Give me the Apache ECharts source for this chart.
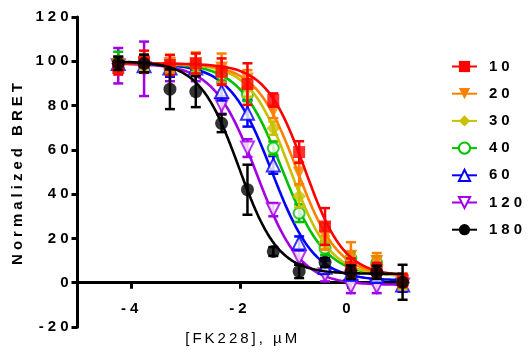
<!DOCTYPE html>
<html>
<head>
<meta charset="utf-8">
<script src="https://cdn.jsdelivr.net/npm/echarts@6/dist/echarts.min.js"></script>
<style>
  html, body { margin: 0; padding: 0; background: #fff; }
  #chart { width: 531px; height: 360px; }
</style>
</head>
<body>
<div id="chart"></div>
<script>
// log10 of FK228 concentration (µM), 3-fold dilution series
const logConc = [-4.248, -3.771, -3.294, -2.817, -2.340, -1.863, -1.386, -0.909, -0.431, 0.046, 0.523, 1.000];

const seriesNames = ['10', '20', '30', '40', '60', '120', '180'];

// mean normalized BRET per time point
const bret10  = [97, 99.8, 98.3, 99, 95.3, 89.7, 82.5, 59, 25.4, 7, 6, 1];
const bret20  = [98, 99, 99, 99, 97, 92, 77.3, 49.5, 21, 12, 9.6, 1];
const bret30  = [99, 99, 98, 98, 96, 88, 69.8, 39, 18, 9, 8, 0];
const bret40  = [100, 99, 97, 98, 94, 85, 60.8, 31.4, 15.6, 11, 9, 1];
const bret60  = [99, 98, 97, 97, 86.3, 76.5, 53.2, 17.9, 7, 4, 3, -1];
const bret120 = [98, 96.6, 96, 95, 80.3, 60.8, 33, 11.4, 3.6, -1.7, -1.7, -1];
const bret180 = [99.1, 99, 87.4, 86.3, 72, 42, 14.1, 5.1, 9.2, 4.8, 4.7, 0.2];

// error (± SEM)
const err10  = [3, 5, 4.5, 4.5, 6, 9.4, 3, 4.9, 8.3, 4, 3, 3];
const err20  = [3, 4, 4, 5, 6.5, 4, 3, 5, 6, 6.3, 3.8, 3];
const err30  = [3, 3, 3, 3, 3, 4, 3, 5, 3, 3, 3, 3];
const err40  = [4.3, 3, 3, 3, 3, 3, 3, 4, 3, 3, 3, 3];
const err60  = [3, 3, 4, 3, 4, 6, 4, 3, 3, 3, 3, 3];
const err120 = [8, 12.3, 5, 4, 4, 4, 3, 3, 3, 3, 3, 3];
const err180 = [3, 4, 9, 7, 4, 11.3, 2, 3, 2, 3, 3, 7.9];

// four-parameter logistic fit per time point
const fitTop     = [99, 99, 99, 99, 99, 99, 100];
const fitBottom  = [3, 3, 3, 3, 1, -1, 4];
const fitLogIC50 = [-0.80, -0.95, -1.075, -1.22, -1.41, -1.69, -2.02];
const fitHill    = [1.2, 1.15, 1.17, 1.1, 1.1, 1.1, 1.2];

const yTicks = { min: -20, max: 120, interval: 20 };
const xTickValues = [-4, -2, 0];

const means = [bret10, bret20, bret30, bret40, bret60, bret120, bret180];
const errs = [err10, err20, err30, err40, err60, err120, err180];

const colors = ['#FF0000', '#FF8000', '#C8C000', '#00C000', '#0000FF', '#A100E6', '#000000'];
const symbols = ['rect', 'triangle', 'diamond', 'emptyCircle', 'emptyTriangle', 'emptyTriangle', 'circle'];
const symbolRotates = [0, 180, 0, 0, 0, 180, 0];
const symbolSizes = [12, 13, 14, 11, 13, 13, 13];
const stackRank = [6, 5, 4, 3, 2, 1, 7];

// letter spacing for canvas text (bold labels are spaced wider)
const fillTextBase = CanvasRenderingContext2D.prototype.fillText;
CanvasRenderingContext2D.prototype.fillText = function (t, x, y, w) {
  const prev = this.letterSpacing;
  this.letterSpacing = /bold/.test(this.font) ? '4px' : '3px';
  if (w === undefined) fillTextBase.call(this, t, x, y);
  else fillTextBase.call(this, t, x, y, w);
  this.letterSpacing = prev || '0px';
};

function fitCurve(i) {
  const pts = [];
  const x0 = logConc[0], x1 = logConc[logConc.length - 1];
  const n = 120;
  for (let k = 0; k <= n; k++) {
    const x = x0 + (x1 - x0) * k / n;
    const y = fitBottom[i] + (fitTop[i] - fitBottom[i]) /
      (1 + Math.pow(10, (x - fitLogIC50[i]) * fitHill[i]));
    pts.push([x, y]);
  }
  return pts;
}

const FONT = '"Liberation Sans", Arial, sans-serif';
const series = [];

seriesNames.forEach((name, i) => {
  const color = colors[i];
  const zBase = stackRank[i] * 3;
  // fitted curve (first series of the name provides the legend icon)
  series.push({
    type: 'line',
    name: name,
    data: fitCurve(i),
    symbol: symbols[i],
    symbolRotate: symbolRotates[i],
    symbolSize: symbolSizes[i],
    showSymbol: false,
    smooth: false,
    silent: true,
    color: color,
    lineStyle: { color: color, width: 2.6 },
    itemStyle: { color: color, borderWidth: 2.5 },
    z: zBase
  });
  // error bars
  series.push({
    type: 'custom',
    name: name,
    data: logConc.map((x, k) => [x, means[i][k], errs[i][k]]),
    encode: { x: 0, y: 1 },
    silent: true,
    z: zBase + 1,
    renderItem: function (params, api) {
      const x = api.value(0), y = api.value(1), e = api.value(2);
      const top = api.coord([x, y + e]);
      const bot = api.coord([x, y - e]);
      const hw = 5;
      const st = { stroke: color, lineWidth: 2.5 };
      return {
        type: 'group',
        children: [
          { type: 'line', shape: { x1: top[0], y1: top[1], x2: bot[0], y2: bot[1] }, style: st },
          { type: 'line', shape: { x1: top[0] - hw, y1: top[1], x2: top[0] + hw, y2: top[1] }, style: st },
          { type: 'line', shape: { x1: bot[0] - hw, y1: bot[1], x2: bot[0] + hw, y2: bot[1] }, style: st }
        ]
      };
    }
  });
  // mean markers
  series.push({
    type: 'scatter',
    name: name,
    data: logConc.map((x, k) => [x, means[i][k]]),
    symbol: symbols[i],
    symbolRotate: symbolRotates[i],
    symbolSize: symbolSizes[i],
    silent: true,
    itemStyle: symbols[i].indexOf('empty') === 0
      ? { color: color, borderColor: color, borderWidth: 2.5 }
      : { color: color },
    z: zBase + 2
  });
});

const chart = echarts.init(document.getElementById('chart'), null, { renderer: 'canvas' });
chart.setOption({
  animation: false,
  backgroundColor: '#fff',
  grid: { left: 77.5, right: 123, top: 17, bottom: 33, containLabel: false, outerBoundsMode: 'none' },
  xAxis: {
    type: 'value',
    min: -5,
    max: 1.1,
    name: '[FK228], µM',
    nameLocation: 'middle',
    nameGap: 4,
    nameTextStyle: { fontFamily: FONT, fontSize: 15, color: '#000' },
    axisLine: { onZero: true, lineStyle: { color: '#000', width: 3 } },
    axisTick: { show: true, customValues: xTickValues, length: 6, lineStyle: { color: '#000', width: 3 } },
    axisLabel: {
      customValues: xTickValues, margin: -26, color: '#000',
      fontFamily: FONT, fontSize: 15, fontWeight: 'bold'
    },
    splitLine: { show: false }
  },
  yAxis: {
    type: 'value',
    min: yTicks.min,
    max: yTicks.max,
    interval: yTicks.interval,
    name: 'Normalized BRET',
    nameLocation: 'middle',
    nameGap: 52,
    nameTextStyle: { fontFamily: FONT, fontSize: 15, fontWeight: 'bold', color: '#000' },
    axisLine: { onZero: false, lineStyle: { color: '#000', width: 3 } },
    axisTick: { show: true, length: 6, lineStyle: { color: '#000', width: 3 } },
    axisLabel: { margin: 5, color: '#000', fontFamily: FONT, fontSize: 15, fontWeight: 'bold' },
    splitLine: { show: false }
  },
  legend: {
    data: seriesNames,
    orient: 'vertical',
    left: 446,
    top: 54,
    itemWidth: 25,
    itemHeight: 14,
    itemGap: 12.2,
    selectedMode: false,
    textStyle: { fontFamily: FONT, fontSize: 15, fontWeight: 'bold', color: '#000', padding: [0, 0, 0, 7] }
  },
  series: series
});
</script>
</body>
</html>
